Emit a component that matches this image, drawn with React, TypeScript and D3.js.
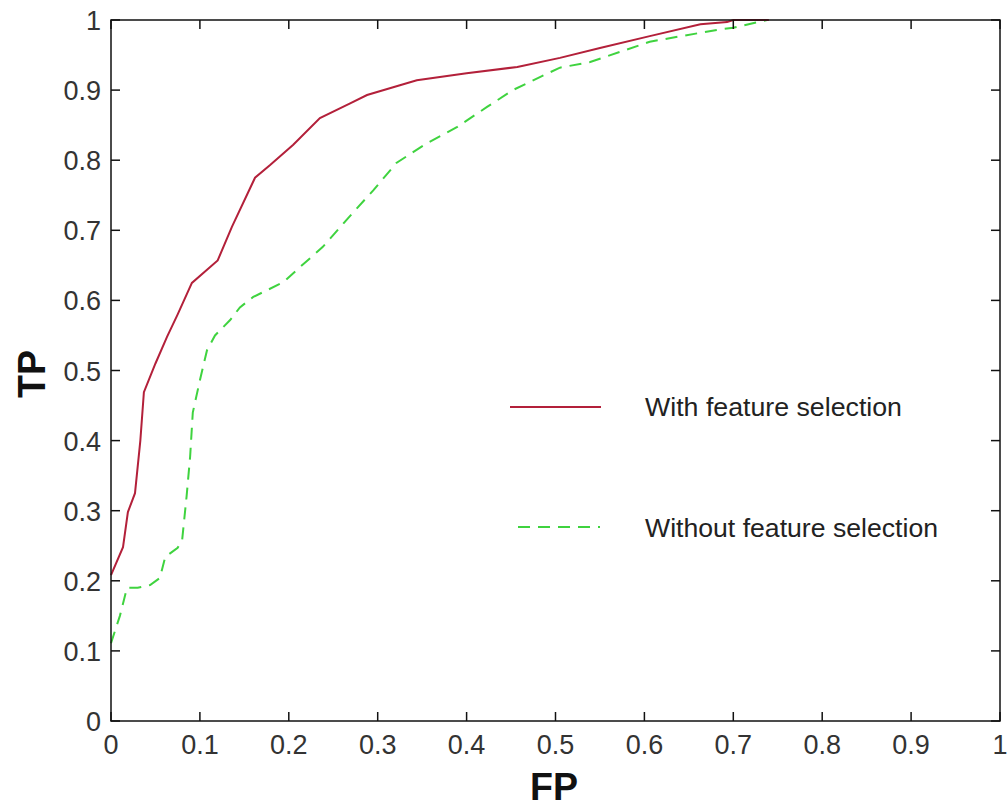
import { useMemo } from 'react';
import * as d3 from 'd3';

const W = 1007, H = 808;
const M = { left: 111, right: 1000, top: 20, bottom: 721 };

const ticks = [0, 0.1, 0.2, 0.3, 0.4, 0.5, 0.6, 0.7, 0.8, 0.9, 1];
const tickLabels = ['0', '0.1', '0.2', '0.3', '0.4', '0.5', '0.6', '0.7', '0.8', '0.9', '1'];

// (FP, TP)
const withFS: [number, number][] = [
  [0, 0.208], [0.0135, 0.248], [0.019, 0.298], [0.027, 0.325], [0.033, 0.4], [0.037, 0.469],
  [0.05, 0.51], [0.063, 0.548], [0.075, 0.58], [0.091, 0.625], [0.12, 0.657], [0.136, 0.705],
  [0.162, 0.775], [0.179, 0.793], [0.205, 0.822], [0.235, 0.86], [0.269, 0.881], [0.288, 0.893],
  [0.325, 0.907], [0.344, 0.914], [0.4, 0.924], [0.457, 0.933], [0.505, 0.946], [0.55, 0.96],
  [0.606, 0.977], [0.663, 0.994], [0.693, 0.997], [0.7, 1.0], [0.74, 1.0],
];

const withoutFS: [number, number][] = [
  [0, 0.111], [0.01, 0.15], [0.018, 0.19], [0.03, 0.19], [0.044, 0.194], [0.055, 0.204],
  [0.061, 0.234], [0.075, 0.247], [0.08, 0.258], [0.085, 0.32], [0.089, 0.377], [0.092, 0.44],
  [0.1, 0.486], [0.108, 0.529], [0.117, 0.55], [0.134, 0.572], [0.145, 0.59], [0.16, 0.605],
  [0.194, 0.626], [0.213, 0.648], [0.238, 0.676], [0.265, 0.715], [0.295, 0.757], [0.321, 0.796],
  [0.355, 0.824], [0.389, 0.847], [0.423, 0.876], [0.452, 0.9], [0.483, 0.919], [0.505, 0.932],
  [0.539, 0.94], [0.606, 0.969], [0.682, 0.986], [0.7, 0.989], [0.738, 1.0],
];

const RED = '#b3203a';
const GREEN = '#3fd33f';
const FONT = '"Liberation Sans", Arial, sans-serif';

export default function App() {
  const x = useMemo(() => d3.scaleLinear().domain([0, 1]).range([M.left, M.right]), []);
  const y = useMemo(() => d3.scaleLinear().domain([0, 1]).range([M.bottom, M.top]), []);
  const line = d3.line<[number, number]>().x((d) => x(d[0])).y((d) => y(d[1]));
  const tl = 9;

  return (
    <svg width={W} height={H} style={{ position: 'absolute', left: 0, top: 0, background: '#fff' }}>
      {/* curves */}
      <path d={line(withoutFS) ?? ''} fill="none" stroke={GREEN} strokeWidth={2} strokeDasharray="12,8" />
      <path d={line(withFS) ?? ''} fill="none" stroke={RED} strokeWidth={2} />

      {/* box */}
      <rect x={M.left} y={M.top} width={M.right - M.left} height={M.bottom - M.top} fill="none" stroke="#111" strokeWidth={1.5} />

      {/* ticks, inward on all sides */}
      {ticks.map((t, i) => (
        <g key={i} stroke="#111" strokeWidth={1.5}>
          <line x1={x(t)} x2={x(t)} y1={M.bottom} y2={M.bottom - tl} />
          <line x1={x(t)} x2={x(t)} y1={M.top} y2={M.top + tl} />
          <line x1={M.left} x2={M.left + tl} y1={y(t)} y2={y(t)} />
          <line x1={M.right} x2={M.right - tl} y1={y(t)} y2={y(t)} />
        </g>
      ))}

      {/* tick labels */}
      {ticks.map((t, i) => (
        <text key={'x' + i} x={x(t)} y={754} textAnchor="middle" fontFamily={FONT} fontSize={27} fill="#333">
          {tickLabels[i]}
        </text>
      ))}
      {ticks.map((t, i) => (
        <text key={'y' + i} x={101} y={y(t) + 10} textAnchor="end" fontFamily={FONT} fontSize={27} fill="#333">
          {tickLabels[i]}
        </text>
      ))}

      {/* axis titles */}
      <text
        transform="translate(45,374) rotate(-90)"
        textAnchor="middle"
        fontFamily={FONT}
        fontSize={38}
        fontWeight="bold"
        textLength={48}
        lengthAdjust="spacingAndGlyphs"
        fill="#111"
      >
        TP
      </text>
      <text
        x={554}
        y={800}
        textAnchor="middle"
        fontFamily={FONT}
        fontSize={38}
        fontWeight="bold"
        textLength={48}
        lengthAdjust="spacingAndGlyphs"
        fill="#111"
      >
        FP
      </text>

      {/* legend */}
      <line x1={510} x2={601} y1={407} y2={407} stroke={RED} strokeWidth={2} />
      <text x={645} y={416} fontFamily={FONT} fontSize={25} fill="#222" textLength={257} lengthAdjust="spacingAndGlyphs">
        With feature selection
      </text>
      <line x1={518} x2={600} y1={527} y2={527} stroke={GREEN} strokeWidth={2} strokeDasharray="12,8" />
      <text x={645} y={537} fontFamily={FONT} fontSize={25} fill="#222" textLength={293} lengthAdjust="spacingAndGlyphs">
        Without feature selection
      </text>
    </svg>
  );
}
